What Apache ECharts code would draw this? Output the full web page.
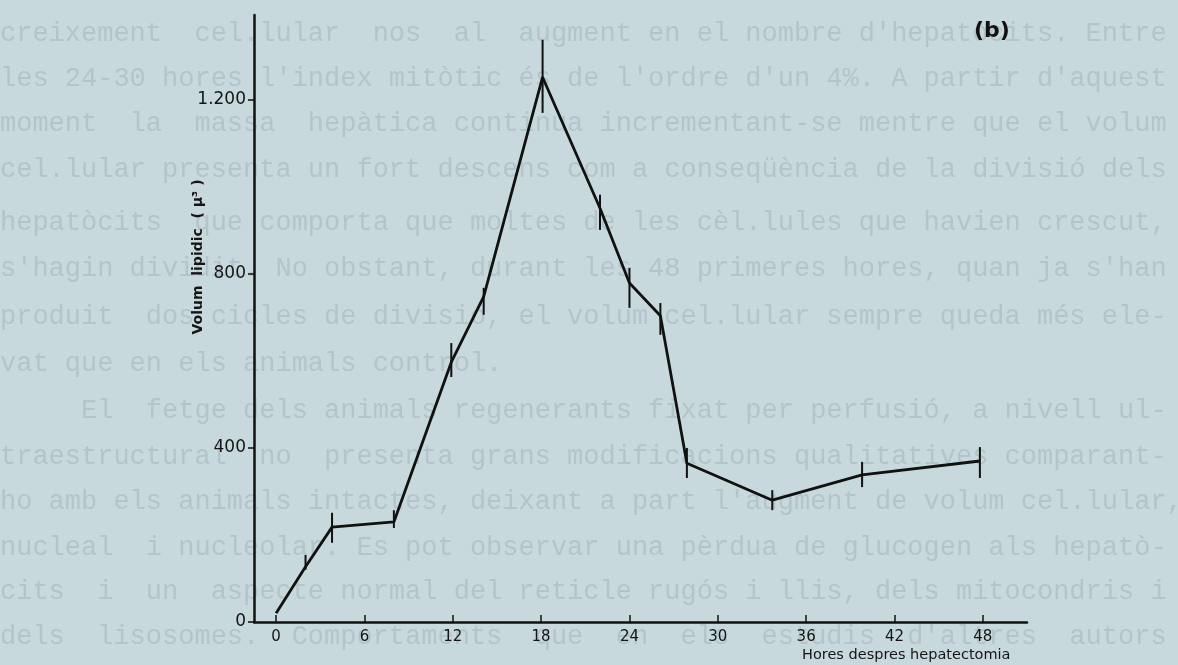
<!DOCTYPE html>
<html>
<head>
<meta charset="utf-8">
<script src="https://cdn.jsdelivr.net/npm/echarts@6/dist/echarts.min.js"></script>
<style>
html,body{margin:0;padding:0;background:#c8d9dd;}
#chart{width:1178px;height:665px;}
</style>
</head>
<body>
<div id="chart"></div>
<script>
// ---- data ----
var hours  = [0, 2, 3.8, 8, 11.9, 14.1, 18.1, 22, 24, 26.1, 27.9, 33.7, 39.8, 47.8];
var values = [20, 127, 218, 230, 597, 748, 1252, 951, 779, 704, 365, 280, 338, 370];
var errLow  = [20, 120, 182, 216, 563, 706, 1170, 901, 722, 660, 331, 257, 310, 331];
var errHigh = [20, 154, 251, 257, 641, 768, 1338, 982, 814, 733, 400, 303, 368, 402];
var xTicks = [0, 6, 12, 18, 24, 30, 36, 42, 48];
var yTicks = [0, 400, 800, 1200];
var yTickLabels = ['0', '400', '800', '1.200'];

var xAxisName = 'Hores despres hepatectomia';
var yAxisName = 'Volum  lipidic  ( \u03bc\u00b3 )';
var panelLabel = '(b)';

// faint page text visible behind the chart
var pageLines = [
  "creixement cel.lular nos al augment en el nombre d'hepatòcits. Entre",
  "les 24-30 hores l'index mitòtic és de l'ordre d'un 4%. A partir d'aquest",
  "moment la massa hepàtica continua incrementant-se mentre que el volum",
  "cel.lular presenta un fort descens com a conseqüència de la divisió dels",
  "hepatòcits que comporta que moltes de les cèl.lules que havien crescut,",
  "s'hagin dividit. No obstant, durant les 48 primeres hores, quan ja s'han",
  "produit dos cicles de divisió, el volum cel.lular sempre queda més ele-",
  "vat que en els animals control.",
  "     El fetge dels animals regenerants fixat per perfusió, a nivell ul-",
  "traestructural no presenta grans modificacions qualitatives comparant-",
  "ho amb els animals intactes, deixant a part l'augment de volum cel.lular,",
  "nucleal i nucleolar. Es pot observar una pèrdua de glucogen als hepatò-",
  "cits i un aspecte normal del reticle rugós i llis, dels mitocondris i",
  "dels lisosomes. Comportaments que en els estudis d'altres autors"
];
var pageLineY = [35, 80, 125, 171, 224, 270, 318, 365, 412, 458, 503, 549, 593, 638];
var justifyLine = [true, true, true, true, true, true, true, false, true, true, true, true, true, true];

function justify(s, n) {
  var m = s.match(/^ */)[0];
  var words = s.trim().split(/ +/);
  var total = m.length + words.join('').length;
  var gaps = words.length - 1;
  if (gaps <= 0) return s;
  var spaces = Math.max(gaps, n - total);
  var out = m;
  for (var i = 0; i < words.length; i++) {
    out += words[i];
    if (i < gaps) {
      var k = Math.floor(spaces / gaps) + (i < spaces % gaps ? 1 : 0);
      out += new Array(k + 1).join(' ');
    }
  }
  return out;
}

var graphics = [];
for (var i = 0; i < pageLines.length; i++) {
  graphics.push({
    type: 'text', left: 0, top: pageLineY[i] - 15, z: -10, silent: true,
    style: {
      text: justifyLine[i] ? justify(pageLines[i], 72) : pageLines[i],
      font: '27px "Liberation Mono"', fill: '#b3c5ca'
    }
  });
}
graphics.push({
  type: 'text', x: 198, y: 257, rotation: Math.PI / 2, z: 10,
  style: { text: yAxisName, font: 'bold 14px "DejaVu Sans"', fill: '#151515', align: 'center', verticalAlign: 'middle' }
});
graphics.push({
  type: 'text', left: 802, top: 648, z: 10,
  style: { text: xAxisName, font: '14.5px "DejaVu Sans"', fill: '#151515' }
});
graphics.push({
  type: 'text', left: 974, top: 20, z: 10,
  style: { text: panelLabel, font: 'bold 22px "DejaVu Sans"', fill: '#111' }
});

var lineData = hours.map(function (h, i) { return [h, values[i]]; });
var errData = hours.map(function (h, i) { return [h, errLow[i], errHigh[i]]; });

var chart = echarts.init(document.getElementById('chart'));
chart.setOption({
  backgroundColor: '#c8d9dd',
  animation: false,
  graphic: graphics,
  grid: { left: 254, right: 151, top: 15, bottom: 43 },
  xAxis: {
    type: 'value', min: -1.5, max: 51,
    axisLine: { onZero: false, lineStyle: { color: '#111', width: 2.5 } },
    axisTick: { show: true, inside: true, length: 7, lineStyle: { color: '#111', width: 1.5 }, customValues: xTicks },
    axisLabel: { customValues: xTicks, color: '#151515', fontFamily: 'DejaVu Sans', fontSize: 15, margin: 8 },
    splitLine: { show: false }
  },
  yAxis: {
    type: 'value', min: 0, max: 1395,
    axisLine: { show: true, onZero: false, lineStyle: { color: '#111', width: 2.5 } },
    axisTick: { show: true, inside: false, length: 6, lineStyle: { color: '#111', width: 1.5 }, customValues: yTicks },
    axisLabel: {
      customValues: yTicks, color: '#151515', fontFamily: 'DejaVu Sans', fontSize: 17, margin: 8,
      formatter: function (v) { var k = yTicks.indexOf(v); return k >= 0 ? yTickLabels[k] : ''; }
    },
    splitLine: { show: false }
  },
  series: [
    {
      type: 'line', data: lineData, symbol: 'none', z: 5,
      lineStyle: { color: '#111', width: 2.8 }
    },
    {
      type: 'custom', data: errData, z: 6,
      renderItem: function (params, api) {
        var p1 = api.coord([api.value(0), api.value(1)]);
        var p2 = api.coord([api.value(0), api.value(2)]);
        return { type: 'line', shape: { x1: p1[0], y1: p1[1], x2: p2[0], y2: p2[1] },
                 style: { stroke: '#111', lineWidth: 2 } };
      }
    }
  ]
});
</script>
</body>
</html>
